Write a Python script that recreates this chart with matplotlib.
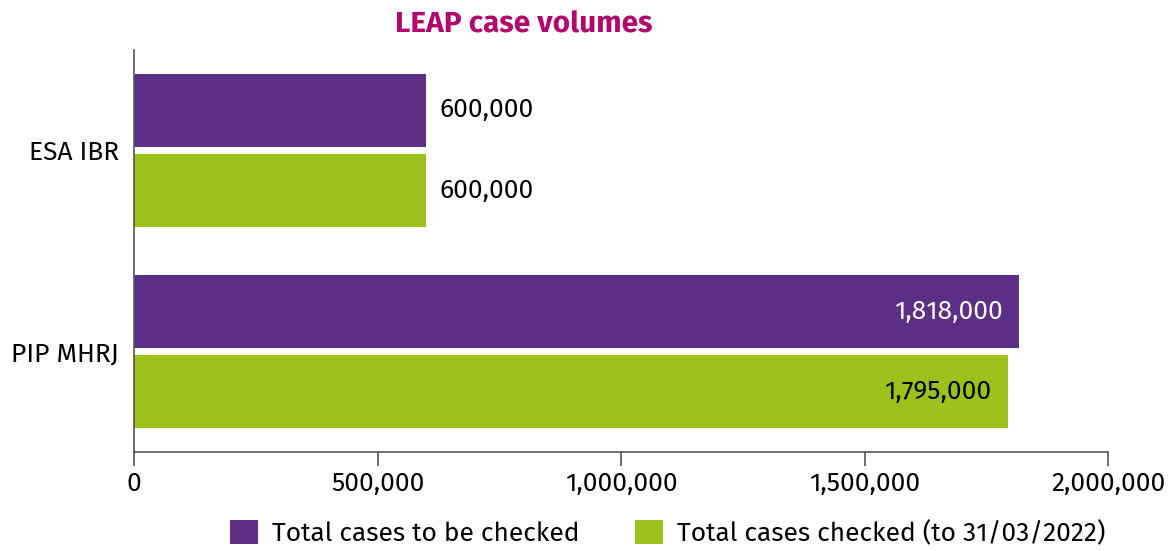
import numpy as np
import matplotlib.pyplot as plt
from matplotlib.ticker import FuncFormatter
import matplotlib.transforms as mtransforms

plt.rcParams['font.family'] = ['Fira Sans', 'Open Sans', 'DejaVu Sans']

categories = ["ESA IBR", "PIP MHRJ"]
to_check = [600000, 1818000]
checked = [600000, 1795000]
series_names = ["Total cases to be checked", "Total cases checked (to 31/03/2022)"]
xticks = [0, 500000, 1000000, 1500000, 2000000]

PURPLE = "#5c2f87"
GREEN = "#9bc21c"
TITLE = "#b0066e"
AXIS = "#555555"
FS = 19

fig = plt.figure(figsize=(11.75, 5.51), dpi=100)
ax = fig.add_axes([134/1175, 1-452/551, (1108-134)/1175, (452-50)/551])

y = np.arange(len(categories))
h = 0.362
off = 0.199

b1 = ax.barh(y - off, to_check, height=h, color=PURPLE, label=series_names[0])
b2 = ax.barh(y + off, checked, height=h, color=GREEN, label=series_names[1])

ax.set_ylim(1.497, -0.497)
ax.set_xlim(0, 2000000)
ax.set_yticks(y)
ax.set_yticklabels(categories, fontsize=FS)
shift = mtransforms.ScaledTranslation(0, -5/100, fig.dpi_scale_trans)
for lab in ax.get_yticklabels():
    lab.set_transform(lab.get_transform() + shift)
ax.set_xticks(xticks)
ax.xaxis.set_major_formatter(FuncFormatter(lambda v, p: f"{int(v):,}"))
ax.tick_params(axis='x', labelsize=FS, length=10, color=AXIS, width=1.2, pad=4)
ax.tick_params(axis='y', length=0, pad=11)

for s in ["top", "right"]:
    ax.spines[s].set_visible(False)
for s in ["left", "bottom"]:
    ax.spines[s].set_color(AXIS)
    ax.spines[s].set_linewidth(1.2)

def label_bars(bars, vals, inside_color):
    for bar, v in zip(bars, vals):
        cy = bar.get_y() + bar.get_height() / 2
        if v > 1000000:
            ax.text(v - 34000, cy, f"{v:,}", ha="right", va="center",
                    fontsize=FS, color=inside_color)
        else:
            ax.text(v + 28000, cy, f"{v:,}", ha="left", va="center",
                    fontsize=FS, color="black")

label_bars(b1, to_check, "white")
label_bars(b2, checked, "black")

fig.text(524/1175, 1-25/551, "LEAP case volumes", ha="center", va="center",
         fontsize=21.5, fontweight="bold", color=TITLE)

fig.legend(handles=[b1, b2], loc="center", bbox_to_anchor=(668/1175, 1-533/551),
           ncol=2, frameon=False, fontsize=FS, handlelength=1.06, handleheight=1.06,
           handletextpad=0.53, columnspacing=2.1)

fig.savefig("out.png", dpi=100)
